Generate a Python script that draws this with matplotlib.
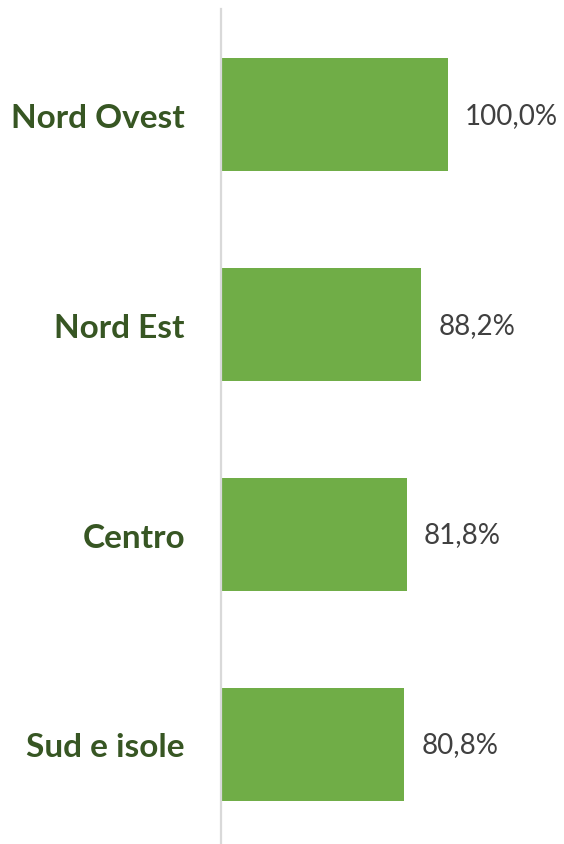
import matplotlib
matplotlib.use("Agg")
import matplotlib.pyplot as plt

categories = ["Nord Ovest", "Nord Est", "Centro", "Sud e isole"]
values = [100.0, 88.2, 81.8, 80.8]
value_labels = ["100,0%", "88,2%", "81,8%", "80,8%"]

W, H = 564, 845
fig = plt.figure(figsize=(W / 100, H / 100), dpi=100)
ax_left, ax_right = 221, 564
ax = fig.add_axes([ax_left / W, 0, (ax_right - ax_left) / W, 835 / H])
scale = (448 - 221) / 100.0
ax.set_xlim(0, (ax_right - ax_left) / scale)
ax.set_ylim(3.474, -0.503)

pos = list(range(len(categories)))
ax.barh(pos, values, height=0.535, color="#70ad47")

for p, v, lab in zip(pos, values, value_labels):
    ax.annotate(lab, (v, p), xytext=(17, 0), textcoords="offset pixels",
                ha="left", va="center", fontsize=20, color="#404040",
                family="Lato")

ax.set_yticks(pos)
ax.set_yticklabels(categories, fontsize=24, fontweight="bold", color="#375623",
                   family="Lato")
ax.tick_params(axis="y", length=0, pad=26)
ax.set_xticks([])
for s in ["top", "right", "bottom"]:
    ax.spines[s].set_visible(False)
ax.spines["left"].set_color("#d9d9d9")
ax.spines["left"].set_linewidth(1.6)

fig.savefig("out.png", dpi=100)
